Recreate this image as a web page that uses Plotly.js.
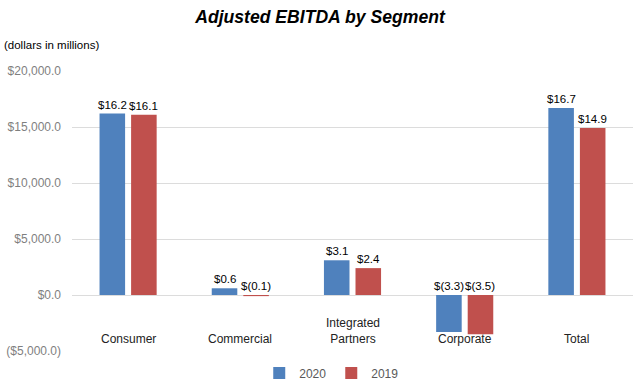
<!DOCTYPE html>
<html>
<head>
<meta charset="utf-8">
<script src="https://cdn.plot.ly/plotly-3.0.1.min.js"></script>
<style>html,body{margin:0;padding:0;background:#fff;}#chart{width:640px;height:384px;}</style>
</head>
<body>
<div id="chart"></div>
<script>
const categories = ["Consumer", "Commercial", "Integrated<br>Partners", "Corporate", "Total"];
const values2020 = [16200, 600, 3100, -3300, 16700];
const values2019 = [16100, -100, 2400, -3500, 14900];
const yTickVals = [-5000, 0, 5000, 10000, 15000, 20000];
const yTickText = ["($5,000.0)", "$0.0", "$5,000.0", "$10,000.0", "$15,000.0", "$20,000.0"];

function fmt(v) {
  const b = (Math.abs(v) / 1000).toFixed(1);
  return v < 0 ? "$(" + b + ")" : "$" + b;
}

const FONT = "Liberation Sans, Arial, sans-serif";
const blue = "#4f81bd", red = "#c0504d";
const traces = [
  {type: "bar", name: "2020", x: categories, y: values2020, marker: {color: blue}, hoverinfo: "none"},
  {type: "bar", name: "2019", x: categories, y: values2019, marker: {color: red}, hoverinfo: "none"}
];

const annotations = [];
const off = 0.14;
categories.forEach((c, i) => {
  [[values2020[i], -off], [values2019[i], off]].forEach(([v, d]) => {
    annotations.push({
      x: i + d, y: Math.max(v, 0), xref: "x", yref: "y",
      text: fmt(v), showarrow: false, yanchor: "bottom", yshift: 1,
      font: {family: FONT, size: 11.5, color: "#000"}
    });
  });
  annotations.push({
    x: i, y: -4700, xref: "x", yref: "y", text: c, showarrow: false,
    yanchor: "bottom",
    font: {family: FONT, size: 12, color: "#222"}
  });
});
annotations.push({
  x: 0, xref: "paper", xanchor: "left", xshift: -70,
  y: 1 + (71 - 45) / 280, yref: "paper", yanchor: "middle",
  text: "(dollars in millions)", showarrow: false,
  font: {family: FONT, size: 11.5, color: "#000"}
});

const layout = {
  width: 640, height: 384,
  margin: {l: 72, r: 7, t: 71, b: 33},
  paper_bgcolor: "#fff", plot_bgcolor: "#fff",
  title: {text: "<b><i>Adjusted EBITDA by Segment</i></b>", x: 0.5, xanchor: "center",
          y: 1 - 17 / 384, yref: "container", yanchor: "middle",
          font: {family: FONT, size: 17.6, color: "#000"}},
  barmode: "group", bargap: 0.4375, bargroupgap: 0.19,
  xaxis: {type: "category", showticklabels: false, showgrid: false, zeroline: false, showline: false, ticks: ""},
  yaxis: {range: [-5000, 20000], tickvals: yTickVals, ticktext: yTickText, showgrid: true, gridcolor: "#dcdcdc",
          gridwidth: 1, zeroline: true, zerolinecolor: "#dcdcdc", zerolinewidth: 1, showline: false,
          ticks: "", ticklabelstandoff: 10, automargin: false,
          tickfont: {family: FONT, size: 12, color: "#7f7f7f"}},
  showlegend: true,
  legend: {orientation: "h", x: 0.463, xanchor: "center", xref: "paper",
           y: (384 - 373) / 384, yref: "container", yanchor: "middle",
           font: {family: FONT, size: 12, color: "#595959"}, itemwidth: 30},
  annotations: annotations
};

Plotly.newPlot("chart", traces, layout, {displayModeBar: false, staticPlot: true});
</script>
</body>
</html>
